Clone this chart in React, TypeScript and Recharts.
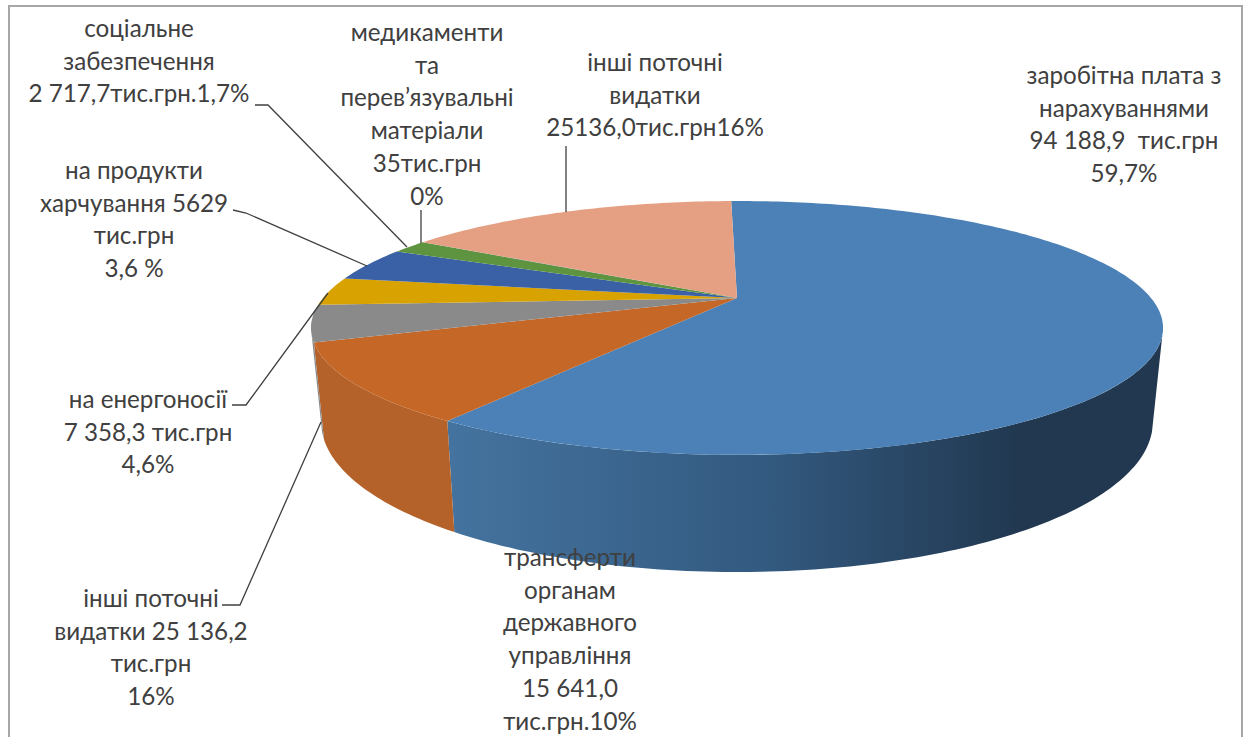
import React from 'react'
import { PieChart, Pie } from 'recharts'

const WIDTH = 1244
const HEIGHT = 737

// slice order runs clockwise from just left of the top edge
const categories = [
  'заробітна плата',
  'трансферти органам державного управління',
  'на енергоносії',
  'на продукти харчування',
  'інші',
  'соціальне забезпечення',
  'медикаменти та перев’язувальні матеріали',
  'інші поточні видатки',
]
const values = [94188.9, 15641.0, 7358.3, 5629.0, 6800.0, 2717.7, 35.0, 25136.0]
const topColors = ['#4B81B6', '#C56727', '#8A8A8A', '#D8A200', '#3A61A5', '#5E9440', '#4A7EBB', '#E5A083']
const wallColors = ['url(#blueWall)', '#B4622A', '#8A8A8A', '#C09000', '#345795', '#54853A', '#4A7EBB', '#CC8E74']

const data = categories.map((name, i) => ({ name, value: values[i], top: topColors[i], wall: wallColors[i] }))

// 3D tilt: the rim of the top and the bottom face as a projected circle
const CENTER_X = 737
const PERSPECTIVE = 0.236
const TOP_FACE = { k: 414, a: -49.5, b: 298 }
const BOTTOM_FACE = { k: 404, a: -50, b: 387 }
const WALL_FROM = 107
const WALL_TO = 253

const rim = (deg: number, face: typeof TOP_FACE) => {
  const rad = (deg * Math.PI) / 180
  const x = Math.sin(rad)
  const y = Math.cos(rad)
  const d = 1 + PERSPECTIVE * y
  return `${(CENTER_X + (face.k * x) / d).toFixed(1)},${((face.a * y + face.b) / d).toFixed(1)}`
}

const arc = (from: number, to: number, face: typeof TOP_FACE) => {
  const steps = Math.max(2, Math.ceil(Math.abs(to - from)))
  const pts: string[] = []
  for (let i = 0; i <= steps; i++) pts.push(rim(from + ((to - from) * i) / steps, face))
  return pts
}

// eslint-disable-next-line @typescript-eslint/no-explicit-any
const Slice3D = (props: any) => {
  const from = 90 - props.startAngle
  const to = 90 - props.endAngle
  const a = Math.max(from, WALL_FROM)
  const b = Math.min(to, WALL_TO)
  const top = [`${CENTER_X},${TOP_FACE.b}`, ...arc(from, to, TOP_FACE)]
  return (
    <g>
      {b > a && (
        <polygon
          points={[...arc(a, b, TOP_FACE), ...arc(b, a, BOTTOM_FACE)].join(' ')}
          fill={props.payload?.wall ?? props.wall}
        />
      )}
      <polygon points={top.join(' ')} fill={props.payload?.top ?? props.top} />
    </g>
  )
}

const labelBlocks = [
  { x: 139, y: 37, lines: ['соціальне', 'забезпечення', '2 717,7тис.грн.1,7%'] },
  { x: 427, y: 41, lines: ['медикаменти', 'та', 'перев’язувальні', 'матеріали', '35тис.грн', '0%'] },
  { x: 655, y: 71, lines: ['інші поточні', 'видатки', '25136,0тис.грн16%'] },
  { x: 1124, y: 84, lines: ['заробітна плата з', 'нарахуваннями', '94 188,9  тис.грн', '59,7%'] },
  { x: 134, y: 179, lines: ['на продукти', 'харчування 5629', 'тис.грн', '3,6 %'] },
  { x: 148, y: 408, lines: ['на енергоносії', '7 358,3 тис.грн', '4,6%'] },
  { x: 151, y: 607, lines: ['інші поточні', 'видатки 25 136,2', 'тис.грн', '16%'] },
  { x: 570, y: 566, lines: ['трансферти', 'органам', 'державного', 'управління', '15 641,0', 'тис.грн.10%'] },
]

const leaders = [
  '255,105 268,105 407,247',
  '421,210 421,243',
  '566,146 566,212',
  '233,210 246,213 367,266',
  '232,405 246,405 328,293',
  '222,605 240,605 321,422',
]

export default function App() {
  return (
    <div style={{ position: 'absolute', left: 0, top: 0, width: WIDTH, height: HEIGHT, overflow: 'hidden', background: '#fff' }}>
      <div
        style={{
          position: 'absolute',
          left: 8,
          top: 5,
          width: 1231,
          height: 800,
          border: '2px solid #A6A6A6',
        }}
      />
      <div style={{ position: 'absolute', left: 0, top: 0 }}>
        <PieChart width={WIDTH} height={HEIGHT} margin={{ top: 0, right: 0, bottom: 0, left: 0 }}>
          <defs>
            <linearGradient id="blueWall" gradientUnits="userSpaceOnUse" x1="450" y1="0" x2="1020" y2="0">
              <stop offset="0" stopColor="#44739F" />
              <stop offset="0.55" stopColor="#335A80" />
              <stop offset="1" stopColor="#213850" />
            </linearGradient>
          </defs>
          <Pie
            data={data}
            dataKey="value"
            nameKey="name"
            cx={CENTER_X}
            cy={TOP_FACE.b}
            outerRadius={200}
            startAngle={91}
            endAngle={-269}
            stroke="none"
            isAnimationActive={false}
            shape={Slice3D}
            label={false}
            labelLine={false}
          />
        </PieChart>
      </div>
      {/* labels sit on their own layer, the pie would cover them otherwise */}
      <svg width={WIDTH} height={HEIGHT} style={{ position: 'absolute', left: 0, top: 0 }}>
        {leaders.map((points) => (
          <polyline key={points} points={points} fill="none" stroke="#404040" strokeWidth={1.3} />
        ))}
        {labelBlocks.map((block) => (
          <text
            key={block.lines[0] + block.x}
            textAnchor="middle"
            fontFamily="Lato, sans-serif"
            fontSize={24.2}
            fill="#404040"
            style={{ whiteSpace: 'pre' }}
          >
            {block.lines.map((line, i) => (
              <tspan key={i} x={block.x} y={block.y + i * 32.7}>
                {line}
              </tspan>
            ))}
          </text>
        ))}
      </svg>
    </div>
  )
}
